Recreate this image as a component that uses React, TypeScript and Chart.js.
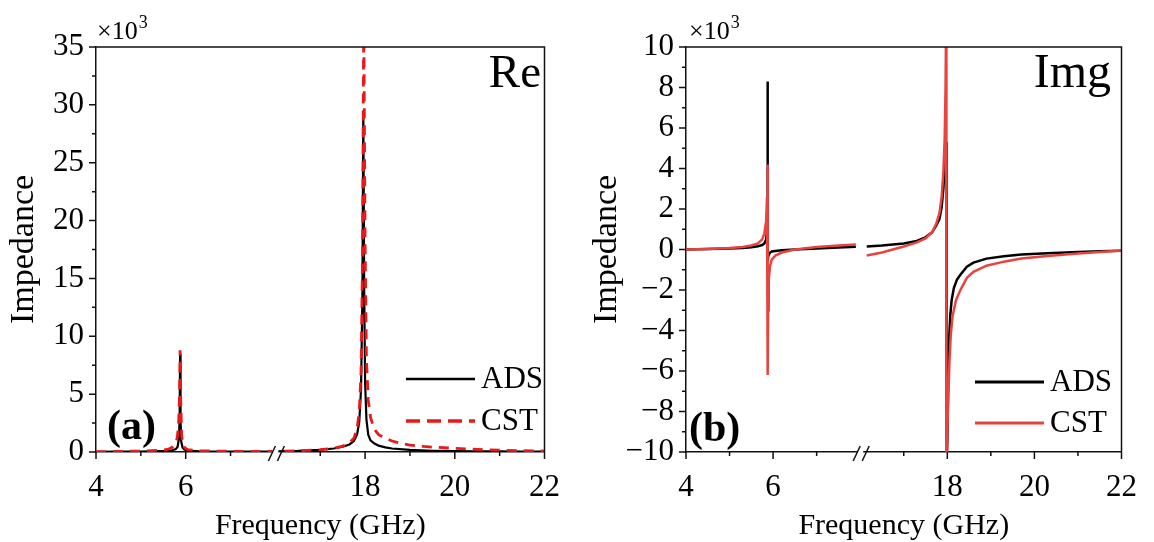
import React, { useEffect, useRef } from "react";
import { Chart, registerables } from "chart.js";

Chart.register(...registerables);

const SERIF = "'Liberation Serif', 'Times New Roman', Times, serif";

// ---------- axis definitions (broken x axis: 4–8 GHz | 16–22 GHz) ----------
const lowBandStart = 4;
const lowBandEnd = 8;
const highBandStart = 16;
const highBandEnd = 22;
const xMajorGHz = [4, 6, 18, 20, 22];
const xMinorGHz = [5, 7, 17, 19, 21];

const reYMajor = [0, 5, 10, 15, 20, 25, 30, 35];
const reYMinor = [2.5, 7.5, 12.5, 17.5, 22.5, 27.5, 32.5];
const imYMajor = [-10, -8, -6, -4, -2, 0, 2, 4, 6, 8, 10];
const imYMinor = [-9, -7, -5, -3, -1, 1, 3, 5, 7, 9];

// ---------- (a) Real part, ×10^3 ----------
const reFreqADS = [4.0, 4.5, 5.0, 5.4, 5.6, 5.7, 5.78, 5.82, 5.85, 5.865, 5.875, 5.885, 5.9, 5.93, 5.97, 6.05, 6.3, 6.8, 7.5, 8.0,
  16.0, 16.5, 17.0, 17.3, 17.5, 17.65, 17.75, 17.82, 17.87, 17.91, 17.94, 17.96, 17.98, 18.0, 18.03, 18.07, 18.12, 18.2, 18.3, 18.45, 18.6, 19.0, 19.5, 20.0, 20.5, 21.0, 21.5, 22.0];
const reADS = [0.02, 0.03, 0.04, 0.07, 0.1, 0.15, 0.25, 0.45, 1.2, 3.0, 8.5, 2.8, 0.9, 0.4, 0.22, 0.12, 0.06, 0.04, 0.03, 0.03,
  0.05, 0.09, 0.18, 0.3, 0.45, 0.65, 0.95, 1.5, 2.6, 5.5, 13.5, 29.5, 14.0, 6.0, 2.8, 1.5, 1.0, 0.75, 0.55, 0.4, 0.3, 0.18, 0.11, 0.08, 0.06, 0.05, 0.04, 0.03];

const reFreqCST = [4.0, 4.5, 5.0, 5.4, 5.6, 5.7, 5.77, 5.81, 5.84, 5.86, 5.875, 5.89, 5.91, 5.94, 5.98, 6.05, 6.3, 6.8, 7.5, 8.0,
  16.0, 16.5, 17.0, 17.3, 17.5, 17.65, 17.75, 17.82, 17.87, 17.91, 17.94, 17.97, 18.0, 18.03, 18.07, 18.12, 18.2, 18.3, 18.45, 18.6, 18.8, 19.0, 19.3, 19.6, 20.0, 20.5, 21.0, 21.5, 22.0];
const reCST = [0.03, 0.05, 0.08, 0.14, 0.22, 0.4, 0.75, 1.2, 2.3, 4.5, 8.8, 4.3, 1.4, 0.7, 0.35, 0.2, 0.1, 0.07, 0.05, 0.05,
  0.06, 0.1, 0.2, 0.32, 0.5, 0.8, 1.2, 2.0, 3.5, 7.0, 16.0, 38.0, 18.0, 8.0, 4.5, 3.0, 2.0, 1.5, 1.2, 0.95, 0.75, 0.6, 0.48, 0.4, 0.32, 0.22, 0.16, 0.11, 0.08];

// ---------- (b) Imaginary part, ×10^3 (null = gap at the axis break) ----------
const imFreqADS = [4.0, 4.5, 5.0, 5.3, 5.5, 5.65, 5.75, 5.8, 5.84, 5.86, 5.872, 5.876, 5.879, 5.89, 5.93, 5.97, 6.05, 6.2, 6.5, 7.0, 7.5, 7.9, 8.0,
  16.0, 16.15, 16.5, 17.0, 17.3, 17.5, 17.65, 17.75, 17.82, 17.87, 17.91, 17.94, 17.96, 17.975, 17.985, 18.0, 18.02, 18.04, 18.07, 18.1, 18.15, 18.22, 18.3, 18.45, 18.6, 18.9, 19.3, 19.7, 20.3, 21.0, 21.5, 22.0];
const imADS = [0.0, 0.02, 0.05, 0.08, 0.11, 0.16, 0.22, 0.3, 0.5, 0.9, 2.0, 8.3, -0.6, -0.3, -0.15, -0.1, -0.07, -0.04, 0.0, 0.05, 0.1, 0.13, null,
  null, 0.15, 0.2, 0.3, 0.42, 0.6, 0.85, 1.2, 1.5, 2.1, 3.0, 4.2, 5.0, 5.3, -10.5, -9.5, -6.5, -4.5, -3.2, -2.5, -1.9, -1.5, -1.25, -0.85, -0.65, -0.45, -0.33, -0.25, -0.18, -0.12, -0.09, -0.06];

const imFreqCST = [4.0, 4.5, 5.0, 5.3, 5.5, 5.65, 5.75, 5.8, 5.84, 5.86, 5.872, 5.876, 5.878, 5.885, 5.9, 5.93, 5.97, 6.05, 6.2, 6.5, 7.0, 7.5, 7.9, 8.0,
  16.0, 16.15, 16.5, 17.0, 17.3, 17.5, 17.65, 17.75, 17.82, 17.87, 17.91, 17.94, 17.96, 17.975, 17.98, 18.0, 18.02, 18.05, 18.08, 18.12, 18.2, 18.3, 18.45, 18.6, 18.9, 19.3, 19.7, 20.3, 21.0, 21.5, 22.0];
const imCST = [0.0, 0.03, 0.07, 0.12, 0.2, 0.3, 0.5, 0.8, 1.4, 2.6, 4.2, 4.1, -6.2, -3.0, -1.5, -0.8, -0.5, -0.3, -0.15, 0.0, 0.12, 0.2, 0.25, null,
  null, -0.3, -0.15, 0.15, 0.35, 0.55, 0.85, 1.3, 1.8, 2.6, 3.8, 5.5, 8.0, 12.0, -12.0, -9.0, -7.5, -5.5, -4.2, -3.3, -2.5, -2.0, -1.4, -1.1, -0.8, -0.6, -0.45, -0.32, -0.2, -0.12, -0.05];

// ---------- helpers ----------
const toU = (f: number) => (f <= lowBandEnd ? f - lowBandStart : f - highBandStart + (lowBandEnd - lowBandStart));
const uMax = toU(highBandEnd);
const breakU = lowBandEnd - lowBandStart;
const toPoints = (fs: number[], vs: (number | null)[]) => fs.map((f, i) => ({ x: toU(f), y: vs[i] }));
const fmtMinus = (v: number) => (v < 0 ? "\u2212" + Math.abs(v) : String(v));

type Panel = {
  chartLeft: number;
  padRight: number;
  yMin: number;
  yMax: number;
  yMajor: number[];
  yMinor: number[];
  titlePad: number;
  name: string;
  nameRight: number;
  nameBaseline: number;
  nameSize: number;
  tag: string;
  tagX: number;
  tagBaseline: number;
  expX: number;
  legX: number;
  legY1: number;
  legY2: number;
  datasets: any[];
};

const W = 577;
const H = 542;
const TOP = 47;
const XAXIS_H = 90;

function buildChart(canvas: HTMLCanvasElement, p: Panel) {
  const deco = {
    id: "deco",
    afterDraw(chart: any) {
      const ctx = chart.ctx as CanvasRenderingContext2D;
      const a = chart.chartArea;
      const xs = chart.scales.x;
      const ys = chart.scales.y;
      ctx.save();
      ctx.strokeStyle = "#111";
      ctx.lineWidth = 1.5;
      // top & right frame
      ctx.beginPath();
      ctx.moveTo(a.left, a.top);
      ctx.lineTo(a.right, a.top);
      ctx.lineTo(a.right, a.bottom);
      ctx.stroke();
      // tick marks
      ctx.beginPath();
      xMajorGHz.forEach((f) => {
        const px = xs.getPixelForValue(toU(f));
        ctx.moveTo(px, a.bottom);
        ctx.lineTo(px, a.bottom + 7);
      });
      xMinorGHz.forEach((f) => {
        const px = xs.getPixelForValue(toU(f));
        ctx.moveTo(px, a.bottom);
        ctx.lineTo(px, a.bottom + 4);
      });
      p.yMajor.forEach((v) => {
        const py = ys.getPixelForValue(v);
        ctx.moveTo(a.left, py);
        ctx.lineTo(a.left - 7, py);
      });
      p.yMinor.forEach((v) => {
        const py = ys.getPixelForValue(v);
        ctx.moveTo(a.left, py);
        ctx.lineTo(a.left - 4, py);
      });
      ctx.stroke();
      // axis break marks
      const bx = xs.getPixelForValue(breakU);
      ctx.fillStyle = "#fff";
      ctx.fillRect(bx - 3, a.bottom - 2, 6, 4);
      ctx.beginPath();
      ctx.moveTo(bx - 7, a.bottom + 9);
      ctx.lineTo(bx, a.bottom - 6);
      ctx.moveTo(bx + 2, a.bottom + 9);
      ctx.lineTo(bx + 9, a.bottom - 6);
      ctx.stroke();
      // ×10^3
      ctx.fillStyle = "#000";
      ctx.textBaseline = "alphabetic";
      ctx.textAlign = "left";
      ctx.font = `26px ${SERIF}`;
      ctx.fillText("\u00d710", p.expX, 39);
      const w = ctx.measureText("\u00d710").width;
      ctx.font = `18px ${SERIF}`;
      ctx.fillText("3", p.expX + w + 1, 28);
      // panel name
      ctx.font = `${p.nameSize}px ${SERIF}`;
      ctx.textAlign = "right";
      ctx.fillText(p.name, p.nameRight, p.nameBaseline);
      // panel tag
      ctx.font = `bold 42px ${SERIF}`;
      ctx.textAlign = "left";
      ctx.fillText(p.tag, p.tagX, p.tagBaseline);
      // legend
      const ds = chart.data.datasets;
      const order = [ds.find((d: any) => d.label === "ADS"), ds.find((d: any) => d.label === "CST")];
      [p.legY1, p.legY2].forEach((ly, i) => {
        const d = order[i];
        ctx.save();
        ctx.strokeStyle = d.borderColor;
        ctx.lineWidth = d.borderWidth + 0.5;
        ctx.setLineDash(d.legendDash || []);
        ctx.beginPath();
        ctx.moveTo(p.legX, ly);
        ctx.lineTo(p.legX + 69, ly);
        ctx.stroke();
        ctx.restore();
        ctx.font = `31px ${SERIF}`;
        ctx.textAlign = "left";
        ctx.textBaseline = "middle";
        ctx.fillStyle = "#000";
        ctx.fillText(d.label, p.legX + 75, ly + 1);
      });
      ctx.restore();
    },
  };

  return new Chart(canvas, {
    type: "line",
    data: { datasets: p.datasets },
    options: {
      animation: false,
      responsive: false,
      devicePixelRatio: 1,
      layout: { padding: { left: 0, top: TOP, right: p.padRight, bottom: 0 } },
      plugins: { legend: { display: false }, tooltip: { enabled: false } },
      elements: { point: { radius: 0 }, line: { tension: 0 } },
      scales: {
        x: {
          type: "linear",
          min: 0,
          max: uMax,
          afterBuildTicks: (s: any) => {
            s.ticks = xMajorGHz.map((f) => ({ value: toU(f) }));
          },
          afterFit: (s: any) => {
            s.height = XAXIS_H;
          },
          grid: { display: false, drawTicks: false },
          border: { display: true, color: "#111", width: 1.5 },
          ticks: {
            autoSkip: false,
            maxRotation: 0,
            padding: 17,
            color: "#000",
            font: { family: SERIF, size: 31 },
            callback: (v: any) => {
              const u = Number(v);
              const f = u <= breakU ? u + lowBandStart : u - breakU + highBandStart;
              return String(Math.round(f));
            },
          },
          title: {
            display: true,
            text: "Frequency (GHz)",
            color: "#000",
            font: { family: SERIF, size: 30, lineHeight: 1 },
            padding: { top: 0, bottom: 1 },
          },
        },
        y: {
          type: "linear",
          min: p.yMin,
          max: p.yMax,
          afterBuildTicks: (s: any) => {
            s.ticks = p.yMajor.map((v) => ({ value: v }));
          },
          afterFit: (s: any) => {
            s.width = p.chartLeft;
          },
          grid: { display: false, drawTicks: false },
          border: { display: true, color: "#111", width: 1.5 },
          ticks: {
            autoSkip: false,
            padding: 12,
            color: "#000",
            font: { family: SERIF, size: 31 },
            callback: (v: any) => fmtMinus(Number(v)),
          },
          title: {
            display: true,
            text: "Impedance",
            color: "#000",
            font: { family: SERIF, size: 34, lineHeight: 1.2 },
            padding: { top: p.titlePad, bottom: 0 },
          },
        },
      },
    },
    plugins: [deco],
  } as any);
}

const BLACK = "#000000";
const RED_A = "#e8191b";
const RED_B = "#e8433f";

const panelA: Panel = {
  chartLeft: 96,
  padRight: W - 546,
  yMin: 0,
  yMax: 35,
  yMajor: reYMajor,
  yMinor: reYMinor,
  titlePad: 4,
  name: "Re",
  nameRight: 541,
  nameBaseline: 87,
  nameSize: 47,
  tag: "(a)",
  tagX: 107,
  tagBaseline: 439,
  expX: 97,
  legX: 406,
  legY1: 379,
  legY2: 421,
  datasets: [
    {
      label: "CST",
      data: toPoints(reFreqCST, reCST),
      borderColor: RED_A,
      borderWidth: 2.8,
      borderDash: [10, 7],
      legendDash: [14, 7],
      pointRadius: 0,
      order: 0,
    },
    {
      label: "ADS",
      data: toPoints(reFreqADS, reADS),
      borderColor: BLACK,
      borderWidth: 2.2,
      pointRadius: 0,
      order: 1,
    },
  ],
};

const panelB: Panel = {
  chartLeft: 109,
  padRight: W - 545,
  yMin: -10,
  yMax: 10,
  yMajor: imYMajor,
  yMinor: imYMinor,
  titlePad: 10,
  name: "Img",
  nameRight: 534,
  nameBaseline: 87,
  nameSize: 48,
  tag: "(b)",
  tagX: 112,
  tagBaseline: 441,
  expX: 112,
  legX: 398,
  legY1: 382,
  legY2: 423,
  datasets: [
    {
      label: "CST",
      data: toPoints(imFreqCST, imCST),
      borderColor: RED_B,
      borderWidth: 2.5,
      pointRadius: 0,
      spanGaps: false,
      order: 0,
    },
    {
      label: "ADS",
      data: toPoints(imFreqADS, imADS),
      borderColor: BLACK,
      borderWidth: 2.5,
      pointRadius: 0,
      spanGaps: false,
      order: 1,
    },
  ],
};

function PanelChart({ panel, left }: { panel: Panel; left: number }) {
  const ref = useRef<HTMLCanvasElement | null>(null);
  useEffect(() => {
    if (!ref.current) return;
    const c = buildChart(ref.current, panel);
    return () => c.destroy();
  }, [panel]);
  return (
    <canvas
      ref={ref}
      width={W}
      height={H}
      style={{ position: "absolute", left, top: 0, width: W, height: H }}
    />
  );
}

export default function App() {
  return (
    <div style={{ position: "fixed", left: 0, top: 0, width: 1154, height: 542, background: "#fff" }}>
      <PanelChart panel={panelA} left={0} />
      <PanelChart panel={panelB} left={W} />
    </div>
  );
}
